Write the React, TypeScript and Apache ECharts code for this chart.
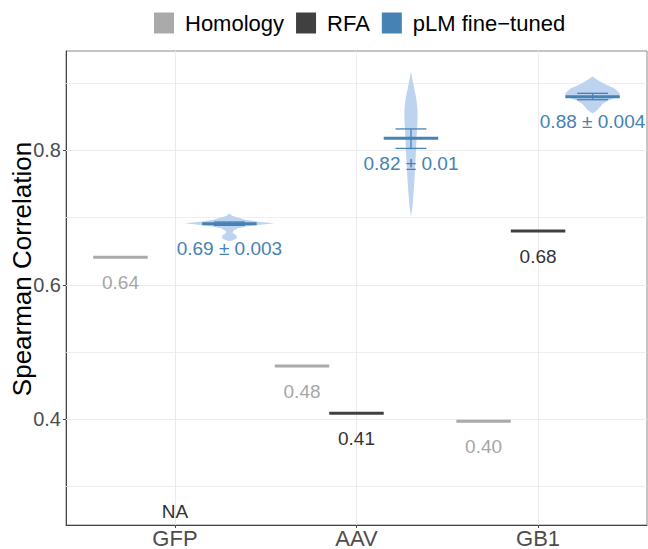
import React, { useEffect, useRef } from "react";
import * as echarts from "echarts";

const categories = ["GFP", "AAV", "GB1"];
const seriesNames = ["Homology", "RFA", "pLM fine−tuned"];
const seriesColors = ["#aaaaaa", "#404040", "#4682b4"];
const yTitle = "Spearman Correlation";

const homologyValues = [0.641, 0.479, 0.397];
const homologyLabels = ["0.64", "0.48", "0.40"];

const rfaValues: (number | null)[] = [null, 0.409, 0.68];
const rfaLabels = ["NA", "0.41", "0.68"];
const naLabelY = 0.3;

const plmMeans = [0.691, 0.818, 0.88];
const plmLabels = ["0.69 ± 0.003", "0.82 ± 0.01", "0.88 ± 0.004"];
const plmErrLow = [0.6885, 0.803, 0.8755];
const plmErrHigh = [0.6935, 0.832, 0.885];

// violin outlines: [y value, half-width in category units]
const violinGFP = [
  [0.706, 0], [0.7025, 0.018], [0.699, 0.06], [0.697, 0.085], [0.694, 0.16],
  [0.6915, 0.248], [0.6895, 0.17], [0.687, 0.1], [0.684, 0.045], [0.68, 0.02],
  [0.677, 0.018], [0.673, 0.04], [0.669, 0.04], [0.666, 0.015], [0.665, 0],
];
const violinAAV = [
  [0.918, 0], [0.906, 0.008], [0.891, 0.019], [0.876, 0.03], [0.861, 0.036],
  [0.846, 0.036], [0.831, 0.033], [0.816, 0.03], [0.801, 0.028], [0.786, 0.025],
  [0.771, 0.022], [0.756, 0.019], [0.736, 0.014], [0.716, 0.008], [0.701, 0],
];
const violinGB1 = [
  [0.91, 0], [0.905, 0.028], [0.899, 0.066], [0.892, 0.121], [0.885, 0.149],
  [0.882, 0.149], [0.878, 0.121], [0.874, 0.083], [0.869, 0.055], [0.864, 0.039],
  [0.859, 0.022], [0.855, 0],
];
const violins = [violinGFP, violinAAV, violinGB1];

const yTicks = [0.4, 0.6, 0.8];
const yMinorGrid = [0.3, 0.5, 0.7, 0.9];
const yMin = 0.2425;
const yMax = 0.948;

const FONT = "'Liberation Sans', Arial, Helvetica, sans-serif";
const dodge = [-0.3, 0, 0.3];
const halfBar = 0.15;
const capHalf = 0.085;
const labelOffset = 25;
const violinFill = "#bed3f0";

export default function App() {
  const ref = useRef<HTMLDivElement>(null);

  useEffect(() => {
    if (!ref.current) return;
    const chart = echarts.init(ref.current, undefined, { renderer: "svg" });

    const label = (x: number, y: number, text: string, color: string) => ({
      type: "text",
      x,
      y: y + labelOffset,
      style: {
        text,
        fill: color,
        fontSize: 19,
        fontFamily: FONT,
        align: "center",
        verticalAlign: "middle",
      },
    });

    const homologySeries = {
      name: seriesNames[0],
      type: "custom",
      z: 10,
      itemStyle: { color: seriesColors[0] },
      data: categories.map((c, i) => [i + 1 + dodge[0], homologyValues[i]]),
      encode: { x: 0, y: 1 },
      renderItem: (params: any, api: any) => {
        const i = params.dataIndex;
        const x = api.value(0);
        const y = api.value(1);
        const a = api.coord([x - halfBar, y]);
        const b = api.coord([x + halfBar, y]);
        const c = api.coord([x, y]);
        return {
          type: "group",
          children: [
            { type: "line", shape: { x1: a[0], y1: a[1], x2: b[0], y2: b[1] }, style: { stroke: seriesColors[0], lineWidth: 3 } },
            label(c[0], c[1], homologyLabels[i], "#a6a6a6"),
          ],
        };
      },
    };

    const rfaSeries = {
      name: seriesNames[1],
      type: "custom",
      z: 10,
      itemStyle: { color: seriesColors[1] },
      data: categories.map((c, i) => [i + 1 + dodge[1], rfaValues[i] === null ? naLabelY : rfaValues[i]]),
      encode: { x: 0, y: 1 },
      renderItem: (params: any, api: any) => {
        const i = params.dataIndex;
        const x = api.value(0);
        const y = api.value(1);
        const c = api.coord([x, y]);
        const children: any[] = [];
        if (rfaValues[i] !== null) {
          const a = api.coord([x - halfBar, y]);
          const b = api.coord([x + halfBar, y]);
          children.push({ type: "line", shape: { x1: a[0], y1: a[1], x2: b[0], y2: b[1] }, style: { stroke: seriesColors[1], lineWidth: 3 } });
        }
        children.push(label(c[0], c[1], rfaLabels[i], "#333333"));
        return { type: "group", children };
      },
    };

    const plmSeries = {
      name: seriesNames[2],
      type: "custom",
      z: 10,
      itemStyle: { color: seriesColors[2] },
      data: categories.map((c, i) => [i + 1 + dodge[2], plmMeans[i]]),
      encode: { x: 0, y: 1 },
      renderItem: (params: any, api: any) => {
        const i = params.dataIndex;
        const x = api.value(0);
        const y = api.value(1);
        const v = violins[i];
        const right = v.map((p) => api.coord([x + p[1], p[0]]));
        const left = v.slice().reverse().map((p) => api.coord([x - p[1], p[0]]));
        const a = api.coord([x - halfBar, y]);
        const b = api.coord([x + halfBar, y]);
        const c = api.coord([x, y]);
        const lo = api.coord([x, plmErrLow[i]]);
        const hi = api.coord([x, plmErrHigh[i]]);
        const loL = api.coord([x - capHalf, plmErrLow[i]]);
        const loR = api.coord([x + capHalf, plmErrLow[i]]);
        const hiL = api.coord([x - capHalf, plmErrHigh[i]]);
        const hiR = api.coord([x + capHalf, plmErrHigh[i]]);
        const stroke = seriesColors[2];
        return {
          type: "group",
          children: [
            { type: "polygon", shape: { points: right.concat(left) }, style: { fill: violinFill, stroke: "none" } },
            { type: "line", shape: { x1: lo[0], y1: lo[1], x2: hi[0], y2: hi[1] }, style: { stroke, lineWidth: 1.3 } },
            { type: "line", shape: { x1: loL[0], y1: loL[1], x2: loR[0], y2: loR[1] }, style: { stroke, lineWidth: 1.3 } },
            { type: "line", shape: { x1: hiL[0], y1: hiL[1], x2: hiR[0], y2: hiR[1] }, style: { stroke, lineWidth: 1.3 } },
            { type: "line", shape: { x1: a[0], y1: a[1], x2: b[0], y2: b[1] }, style: { stroke, lineWidth: 3 } },
            label(c[0], c[1], plmLabels[i], stroke),
          ],
        };
      },
    };

    const gridLineStyle = { type: "solid", color: "#ebebeb", width: 1 };
    const gridSeries = {
      name: "grid",
      type: "custom",
      z: 1,
      silent: true,
      data: [[2, 0.6]],
      encode: { x: 0, y: 1 },
      renderItem: () => ({ type: "group", children: [] }),
      markLine: {
        silent: true,
        z: 1,
        symbol: "none",
        animation: false,
        label: { show: false },
        lineStyle: gridLineStyle,
        emphasis: { disabled: true },
        data: [
          ...yMinorGrid.map((v) => ({ yAxis: v, lineStyle: { ...gridLineStyle, width: 0.8 } })),
          ...yTicks.map((v) => ({ yAxis: v })),
          ...categories.map((c, i) => ({ xAxis: i + 1 })),
        ],
      },
    };

    chart.setOption({
      animation: false,
      textStyle: { fontFamily: FONT },
      legend: {
        data: seriesNames,
        top: 7,
        left: 149,
        icon: "rect",
        itemWidth: 20,
        itemHeight: 21,
        itemGap: 12,
        selectedMode: false,
        textStyle: { fontSize: 22, color: "#000", fontFamily: FONT, padding: [0, 0, 0, 6] },
      },
      graphic: [
        {
          type: "text",
          x: 22,
          y: 269,
          rotation: Math.PI / 2,
          silent: true,
          style: {
            text: yTitle,
            fontSize: 26,
            fontFamily: FONT,
            fill: "#000",
            align: "center",
            verticalAlign: "middle",
          },
        },
      ],
      grid: {
        left: 66,
        right: 1,
        top: 51,
        bottom: 24,
        containLabel: false,
        outerBoundsMode: "none",
        show: true,
        borderColor: "#8a8a8a",
        borderWidth: 1,
        backgroundColor: "#fff",
      },
      xAxis: {
        type: "value",
        min: 0.4,
        max: 3.6,
        axisLine: { show: true, onZero: false, lineStyle: { color: "#444", width: 1 } },
        axisTick: { show: true, customValues: [1, 2, 3], length: 3, lineStyle: { color: "#444" } },
        axisLabel: {
          customValues: [1, 2, 3],
          formatter: (v: number) => categories[Math.round(v) - 1] ?? "",
          fontSize: 22,
          lineHeight: 22,
          color: "#4d4d4d",
          margin: 2,
          fontFamily: FONT,
        },
        splitLine: { show: false },
      },
      yAxis: {
        type: "value",
        min: yMin,
        max: yMax,
        axisLine: { show: true, onZero: false, lineStyle: { color: "#444", width: 1 } },
        axisTick: { show: true, customValues: yTicks, length: 3, lineStyle: { color: "#444" } },
        axisLabel: {
          customValues: yTicks,
          formatter: (v: number) => v.toFixed(1),
          fontSize: 20,
          color: "#4d4d4d",
          margin: 5,
          fontFamily: FONT,
        },
        splitLine: { show: false },
      },
      series: [gridSeries, homologySeries, rfaSeries, plmSeries],
    });

    return () => chart.dispose();
  }, []);

  return (
    <div
      ref={ref}
      style={{ position: "fixed", left: 0, top: 0, width: 648, height: 549, background: "#fff" }}
    />
  );
}
